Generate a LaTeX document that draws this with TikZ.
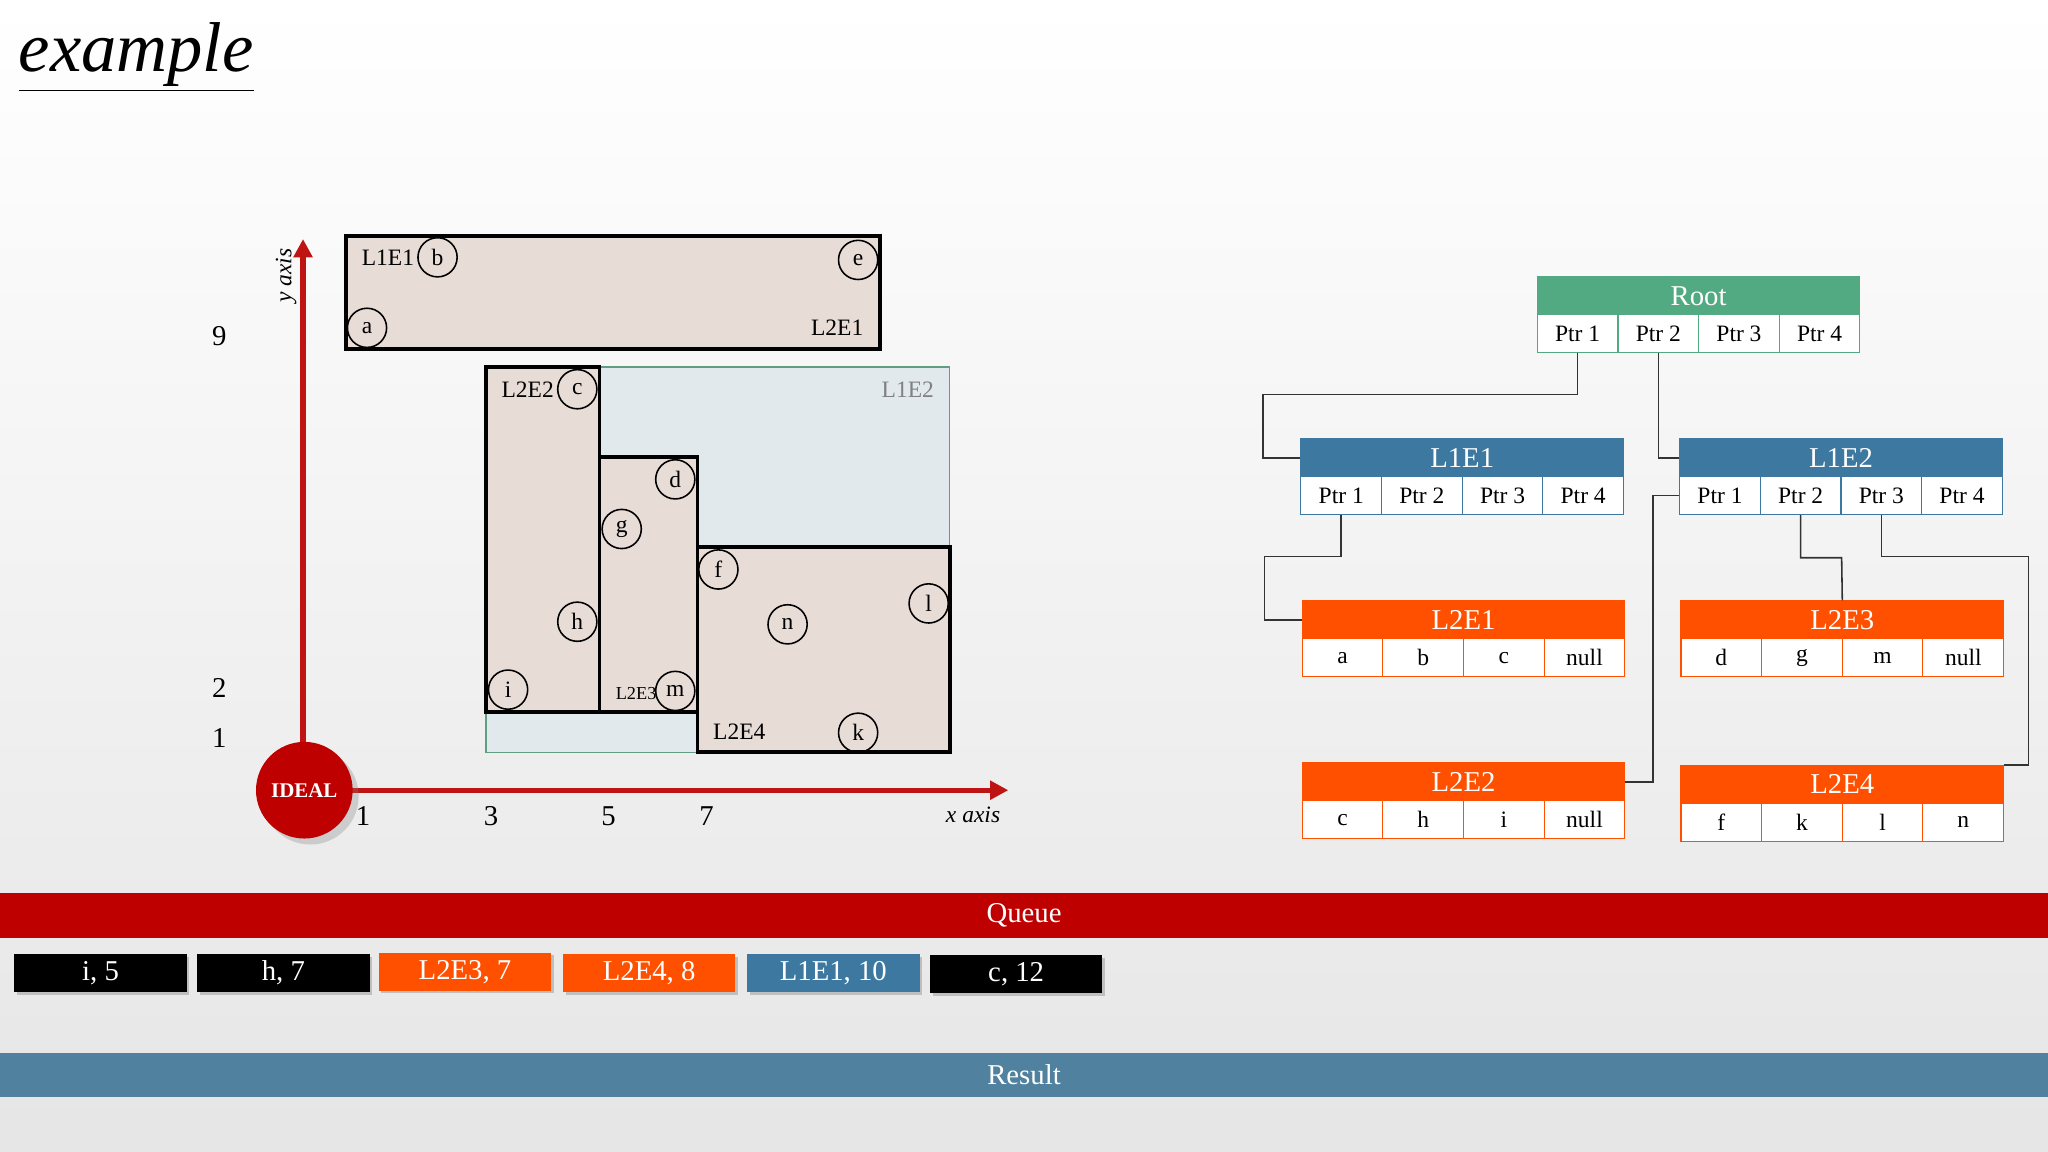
\documentclass[tikz,border=0pt]{standalone}
\usepackage{fontspec}
\setmainfont{Liberation Serif}
\usetikzlibrary{calc,shadows,arrows.meta}
\definecolor{axred}{RGB}{190,20,20}
\definecolor{rootg}{RGB}{82,170,130}
\definecolor{nblue}{RGB}{60,120,160}
\definecolor{norange}{RGB}{255,80,0}
\definecolor{qred}{RGB}{190,0,0}
\definecolor{rblue}{RGB}{80,130,160}
\definecolor{tan}{RGB}{232,220,214}
\definecolor{lblue}{RGB}{226,233,236}
\tikzset{
 hdr/.style={draw=#1,fill=#1,text=white,minimum width=123.5pt,minimum height=14.5pt,inner sep=0pt,font=\fontsize{11}{11}\selectfont},
 cell/.style={draw=#1,fill=white,minimum width=30.875pt,minimum height=14.5pt,inner sep=0pt,font=\fontsize{9}{9}\selectfont},
 conn/.style={draw=black!80,line width=0.6pt},
 pt/.style={circle,draw=black,line width=0.6pt,minimum size=15pt,inner sep=0pt,font=\fontsize{9}{9}\selectfont},
 box/.style={draw=black,line width=1.5pt,fill=tan},
 lbl/.style={font=\fontsize{9}{9}\selectfont,inner sep=0pt},
 num/.style={font=\fontsize{11}{11}\selectfont,inner sep=0pt},
 qitem/.style={fill=#1,text=white,minimum width=66pt,minimum height=14.5pt,inner sep=0pt,font=\fontsize{11}{11}\selectfont,drop shadow={opacity=0.4,shadow xshift=1pt,shadow yshift=-1pt}},
 bar/.style={fill=#1,text=white,minimum width=784pt,minimum height=17pt,inner sep=0pt,font=\fontsize{11}{11}\selectfont},
 axis/.style={draw=axred,line width=2pt,-{Triangle[length=7pt,width=7pt]}}
}
\newcommand{\tnode}[9]{%
 \node[hdr=#4] (#1) at ($(#2,#3)+(123.5,14.5)$) {#5};
 \node[cell=#4] (#1-1) at ($(#2,#3)+(30.875,43.5)$) {#6};
 \node[cell=#4] (#1-2) at ($(#2,#3)+(92.625,43.5)$) {#7};
 \node[cell=#4] (#1-3) at ($(#2,#3)+(154.375,43.5)$) {#8};
 \node[cell=#4] (#1-4) at ($(#2,#3)+(216.125,43.5)$) {#9};}
\begin{document}
\begin{tikzpicture}[x=0.5pt,y=-0.5pt]
\shade[top color=white,bottom color=black!10] (0,0) rectangle (1568,882);
\useasboundingbox (0,0) rectangle (1568,882);
\node[anchor=base west,inner sep=0pt,font=\fontsize{27}{27}\selectfont\itshape] (title) at (14,55) {\underline{example}};
% plot
\draw[fill=lblue,draw=rootg!70!gray,line width=0.5pt] (372,281) rectangle (727,576);
\node[lbl,text=gray] (l1e2t) at (695,298) {L1E2};
\draw[box] (265,181) rectangle (674,267);
\node[lbl] (l1e1t) at (297,197) {L1E1};
\node[lbl] (l2e1t) at (641,251) {L2E1};
\node[pt] (b) at (335,197) {b};
\node[pt] (e) at (657,199) {e};
\node[pt] (a) at (281,251) {a};
\draw[box] (372,281) rectangle (459,545);
\node[lbl] (l2e2t) at (404,298) {L2E2};
\node[pt] (c) at (442,298) {c};
\node[pt] (h) at (442,476) {h};
\node[pt] (i) at (389,528) {i};
\draw[box] (459,350) rectangle (534,545);
\node[lbl,font=\fontsize{7}{7}\selectfont] (l2e3t) at (487,531) {L2E3};
\node[pt] (d) at (517,367) {d};
\node[pt] (g) at (476,405) {g};
\node[pt] (m) at (517,529) {m};
\draw[box] (534,419) rectangle (727,576);
\node[lbl] (l2e4t) at (566,560) {L2E4};
\node[pt] (f) at (550,436) {f};
\node[pt] (n) at (603,478) {n};
\node[pt] (l) at (711,462) {l};
\node[pt] (k) at (657,561) {k};
% axes
\coordinate (ytop) at (232,183);
\coordinate (xend) at (772,605);
\draw[axis] (232,575) -- (ytop);
\draw[axis] (265,605) -- (xend);
\node[circle,fill=qred,text=white,minimum size=37pt,inner sep=0pt,font=\fontsize{8}{8}\selectfont\bfseries,drop shadow={opacity=0.3}] (ideal) at (233,605) {IDEAL};
\node[num] (y9) at (168,257) {9};
\node[num] (y2) at (168,527) {2};
\node[num] (y1) at (168,565) {1};
\node[num] (x1) at (278,625) {1};
\node[num] (x3) at (376,625) {3};
\node[num] (x5) at (466,625) {5};
\node[num] (x7) at (541,625) {7};
\node[lbl,font=\fontsize{9}{9}\selectfont\itshape] (xl) at (745,624) {x axis};
\node[lbl,font=\fontsize{9}{9}\selectfont\itshape,rotate=90] (yl) at (219,211) {y axis};
% tree
\tnode{root}{1177}{212}{rootg}{Root}{Ptr 1}{Ptr 2}{Ptr 3}{Ptr 4}
\tnode{l1e1}{996}{336}{nblue}{L1E1}{Ptr 1}{Ptr 2}{Ptr 3}{Ptr 4}
\tnode{l1e2}{1286}{336}{nblue}{L1E2}{Ptr 1}{Ptr 2}{Ptr 3}{Ptr 4}
\tnode{l2e1}{997}{460}{norange}{L2E1}{a}{b}{c}{null}
\tnode{l2e3}{1287}{460}{norange}{L2E3}{d}{g}{m}{null}
\tnode{l2e2}{997}{584}{norange}{L2E2}{c}{h}{i}{null}
\tnode{l2e4}{1287}{586}{norange}{L2E4}{f}{k}{l}{n}
\draw[conn] (root-1.south) |- (967,302) |- (l1e1.west);
\draw[conn] (root-2.south) |- (l1e2.west);
\draw[conn] (l1e1-1.south) |- (968,426) |- (l2e1.west);
\draw[conn] (l1e2-1.west) -| ($(l2e2.east)+(21,0)$) -- (l2e2.east);
\draw[conn] (l1e2-2.south) |- (1410,427) -- (l2e3.north);
\draw[conn] (l1e2-3.south) |- (1553,426) |- (l2e4.north east);
% queue
\node[bar=qred] (queue) at (784,701) {Queue};
\node[qitem=black] (q1) at (77,745) {i, 5};
\node[qitem=black] (q2) at (217,745) {h, 7};
\node[qitem=norange] (q3) at (356,744) {L2E3, 7};
\node[qitem=norange] (q4) at (497,745) {L2E4, 8};
\node[qitem=nblue] (q5) at (638,745) {L1E1, 10};
\node[qitem=black] (q6) at (778,746) {c, 12};
\node[bar=rblue] (result) at (784,823) {Result};
\end{tikzpicture}
\end{document}
